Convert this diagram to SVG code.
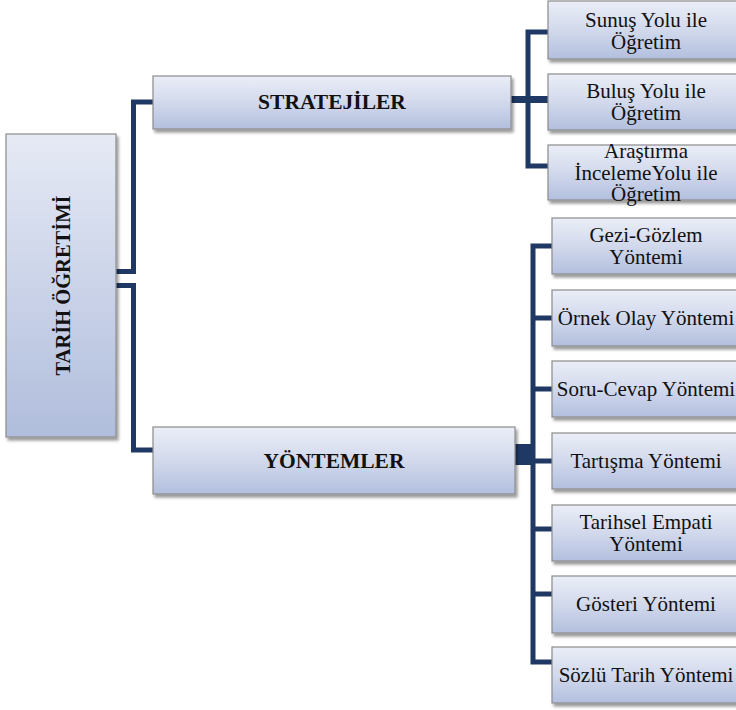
<svg xmlns="http://www.w3.org/2000/svg" width="736" height="710" viewBox="0 0 736 710">
<defs>
<linearGradient id="g" x1="0" y1="0" x2="0" y2="1">
<stop offset="0" stop-color="#eaeef7"/>
<stop offset="0.5" stop-color="#d2d9ec"/>
<stop offset="1" stop-color="#b2bfde"/>
</linearGradient>
<linearGradient id="gv" x1="0" y1="0" x2="0" y2="1">
<stop offset="0" stop-color="#e6eaf5"/>
<stop offset="1" stop-color="#b0bddc"/>
</linearGradient>
<filter id="sh" x="-10%" y="-10%" width="130%" height="140%">
<feDropShadow dx="2" dy="3" stdDeviation="1.8" flood-color="#000" flood-opacity="0.4"/>
</filter>
</defs>
<style>
.box{fill:url(#g);stroke:#8c8c8c;stroke-width:1.2;filter:url(#sh)}
.root{fill:url(#gv);stroke:#8c8c8c;stroke-width:1.2;filter:url(#sh)}
.c{fill:none;stroke:#1f3864;stroke-width:5;stroke-linejoin:miter}
text{font-family:'Liberation Serif','DejaVu Serif',serif;fill:#111;text-anchor:middle}
.t{font-size:21px}
.b{font-size:21.5px;font-weight:bold}
</style>
<rect width="736" height="710" fill="#fff"/>
<g id="connectors">
<path class="c" d="M116 271.5 H133.5 V102 H153"/>
<path class="c" d="M116 285.5 H133.5 V450 H153"/>
<path class="c" d="M511 99.5 H548" style="stroke-width:7"/>
<path class="c" d="M548 32 H528 V166 H548"/>
<path class="c" d="M528 99.5 H548" style="stroke-width:4"/>
<rect x="515" y="444" width="19" height="21" fill="#1f3864"/>
<path class="c" d="M552 246 H533 V662 H552"/>
<path class="c" d="M533 318 H552 M533 389 H552 M533 461 H552 M533 529 H552 M533 594 H552"/>
</g>
<g id="root">
<rect class="root" x="6" y="134" width="110" height="303"/>
<text class="b" font-family="Liberation Serif, serif" transform="translate(70,285.5) rotate(-90)" x="0" y="0" style="font-size:20.5px">TARİH ÖĞRETİMİ</text>
</g>
<g id="stratejiler">
<rect class="box" x="153" y="76" width="358" height="53"/>
<text class="b" x="332" y="109">STRATEJİLER</text>
</g>
<g id="yontemler">
<rect class="box" x="153" y="427" width="362" height="67"/>
<text class="b" x="334" y="468">YÖNTEMLER</text>
</g>
<g id="sunus">
<rect class="box" x="548" y="1" width="200" height="58"/>
<text class="t" x="646" y="27">Sunuş Yolu ile</text>
<text class="t" x="646" y="49">Öğretim</text>
</g>
<g id="bulus">
<rect class="box" x="548" y="74" width="200" height="56"/>
<text class="t" x="646" y="98">Buluş Yolu ile</text>
<text class="t" x="646" y="120">Öğretim</text>
</g>
<g id="arastirma">
<rect class="box" x="548" y="145" width="200" height="55"/>
<text class="t" x="646" y="158">Araştırma</text>
<text class="t" x="646" y="180">İncelemeYolu ile</text>
<text class="t" x="646" y="201">Öğretim</text>
</g>
<g id="gezi">
<rect class="box" x="552" y="218" width="196" height="56"/>
<text class="t" x="646" y="242">Gezi-Gözlem</text>
<text class="t" x="646" y="264">Yöntemi</text>
</g>
<g id="ornek">
<rect class="box" x="552" y="290" width="196" height="56"/>
<text class="t" x="646" y="325">Örnek Olay Yöntemi</text>
</g>
<g id="soru">
<rect class="box" x="552" y="361" width="196" height="56"/>
<text class="t" x="646" y="396">Soru-Cevap Yöntemi</text>
</g>
<g id="tartisma">
<rect class="box" x="552" y="433" width="196" height="56"/>
<text class="t" x="646" y="468">Tartışma Yöntemi</text>
</g>
<g id="tarihsel">
<rect class="box" x="552" y="505" width="196" height="56"/>
<text class="t" x="646" y="529">Tarihsel Empati</text>
<text class="t" x="646" y="551">Yöntemi</text>
</g>
<g id="gosteri">
<rect class="box" x="552" y="576" width="196" height="57"/>
<text class="t" x="646" y="611">Gösteri Yöntemi</text>
</g>
<g id="sozlu">
<rect class="box" x="552" y="647" width="196" height="56"/>
<text class="t" x="646" y="682">Sözlü Tarih Yöntemi</text>
</g>
</svg>
